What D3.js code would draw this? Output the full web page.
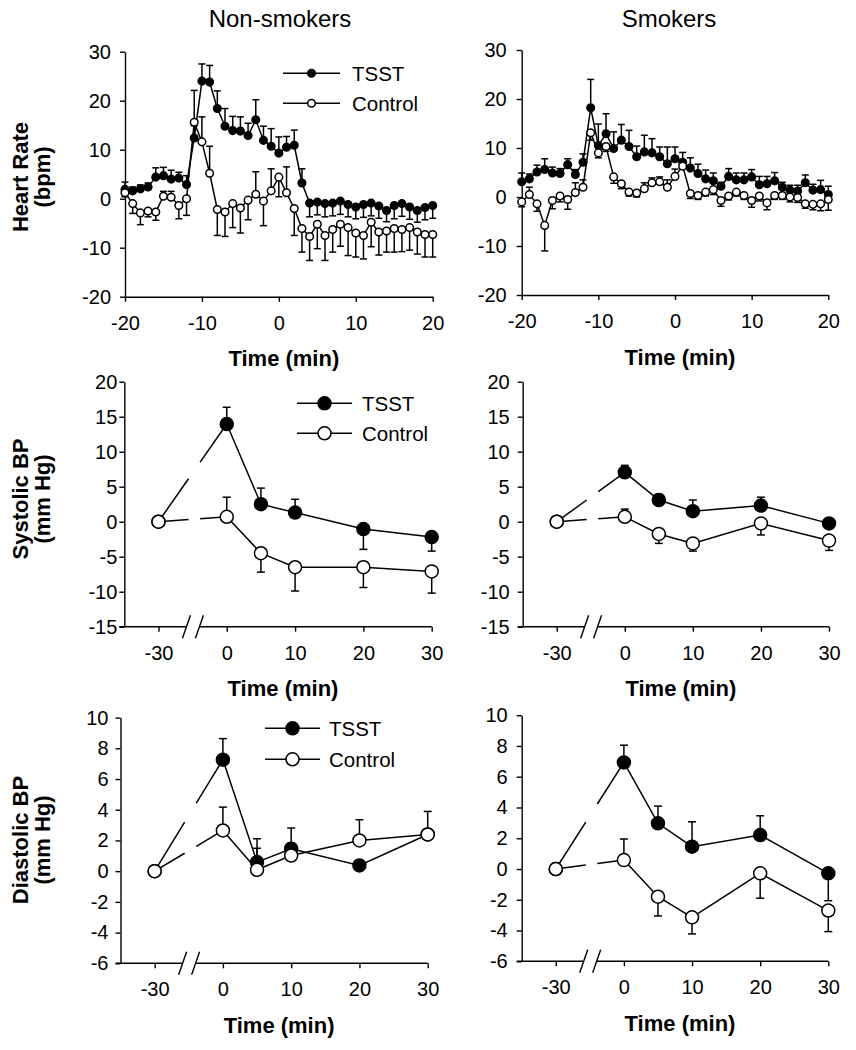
<!DOCTYPE html>
<html><head><meta charset="utf-8">
<script src="https://cdn.jsdelivr.net/npm/d3@7"></script>
<style>
body{margin:0;background:#fff}
svg{display:block}
</style></head><body>
<svg id="chart" width="856" height="1050"></svg>
<script>
// ---------------- DATA ----------------
const columnTitles = ["Non-smokers", "Smokers"];
const seriesNames = ["TSST", "Control"];
const rowTitles = [["Heart Rate", "(bpm)"], ["Systolic BP", "(mm Hg)"], ["Diastolic BP", "(mm Hg)"]];
const xTitle = "Time (min)";

// Heart rate, minute by minute
const hrTime = [-20,-19,-18,-17,-16,-15,-14,-13,-12,-11,-10,-9,-8,-7,-6,-5,-4,-3,-2,-1,0,1,2,3,4,5,6,7,8,9,10,11,12,13,14,15,16,17,18,19,20];
const hrNonTSST = [1.9,1.6,2.0,2.4,4.4,4.7,4.0,4.2,2.9, 12.4,24.0,23.8,18.4,14.8,13.9,13.8,12.9,16.1,11.9,10.7, 9.3,10.5,10.9,3.2,-0.9,-0.7,-1.0,-0.9,-0.5,-1.2,-1.7,-1.2,-0.9,-1.5,-2.4,-1.4,-1.0,-1.7,-2.4,-1.8,-1.4];
const hrNonTSSTErr = [1.5,0.8,0.8,0.8,1.9,1.7,1.8,1.2,1.8, 2.5,3.5,3.4,3.6,3.6,2.9,2.9,2.5,4.1,2.9,3.6, 3.3,2.2,3.1,2.9,-2.8,-2.6,-2.7,-2.6,-2.7,-2.5,-2.4,-2.6,-2.6,-2.5,-2.3,-2.7,-2.6,-2.5,-2.4,-2.5,-2.6];
const hrNonCtrl = [1.2,-1.0,-2.9,-2.5,-2.7,0.5,0.3,-1.4,0.0, 15.6,11.6,5.2,-2.2,-2.7,-1.0,-1.9,-0.3,0.9,-0.5,1.6, 4.4,1.2,-2.0,-6.1,-7.7,-5.2,-7.5,-6.3,-5.2,-5.9,-7.0,-7.5,-4.8,-6.8,-6.6,-6.1,-6.3,-5.9,-6.8,-7.3,-7.3];
const hrNonCtrlErr = [-0.8,-2.0,-2.4,-1.2,-1.7,1.0,1.2,-2.7,-3.4, 6.5,5.1,5.5,-5.3,-5.0,-4.9,-5.1,-4.0,4.6,-5.0,4.5, -4.0,5.3,-5.5,-4.8,-4.9,-5.0,-5.1,-4.6,-4.5,-5.7,-4.9,-4.8,-5.0,-4.7,-4.3,-4.8,-4.5,-4.6,-4.5,-4.6,-4.6];
const hrSmkTSST = [3.1,3.7,5.1,5.6,4.9,4.8,6.6,4.6,7.1, 18.2,10.5,12.9,9.9,11.6,10.3,8.2,9.2,9.0,8.2,6.8, 7.8,7.1,5.9,4.8,3.7,3.3,2.2,4.2,3.5,3.5,4.1,2.5,2.7,3.3,2.0,1.4,1.2,2.9,1.4,1.5,0.5];
const hrSmkTSSTErr = [1.8,1.0,1.4,2.2,1.2,1.0,1.2,1.0,1.7, 5.8,4.4,4.1,3.4,3.2,3.3,2.2,3.4,2.9,2.0,3.4, 2.4,2.0,2.1,1.9,1.8,1.6,0.8,1.6,1.4,1.4,1.5,1.7,1.5,1.7,1.0,1.0,1.2,1.6,1.2,1.9,1.7];
const hrSmkCtrl = [-1.0,0.5,-1.4,-5.8,-0.7,0.2,-0.5,0.9,2.0, 13.1,9.0,10.3,4.1,2.7,1.0,0.8,1.7,2.9,3.1,2.0, 4.2,6.3,0.7,0.3,1.0,1.5,-0.7,0.2,1.0,0.3,-0.7,0.2,-1.2,0.3,0.3,0.0,-0.1,-1.4,-1.5,-1.4,-0.5];
const hrSmkCtrlErr = [-1.0,1.5,-1.5,-5.2,-1.7,-1.2,-2.0,2.0,1.5, -1.5,-1.0,-1.0,-1.3,-1.0,-0.8,-0.8,1.2,1.0,1.0,1.5, 1.5,1.0,-1.0,-0.8,-0.8,-1.0,-1.2,-0.8,-0.8,-0.8,-1.4,-1.0,-1.4,-0.8,-0.8,-1.0,-1.0,-0.9,-1.1,-1.4,-2.2];

// Blood pressure sample times (baseline at -30, axis broken before 0)
const bpTime = [-30, 0, 5, 10, 20, 30];
const sysNonTSST = [0, 13.95, 2.5, 1.3, -1.05, -2.2];
const sysNonTSSTErr = [0, 2.4, 2.3, 1.9, -2.9, -2.0];
const sysNonCtrl = [0, 0.7, -4.5, -6.5, -6.5, -7.1];
const sysNonCtrlErr = [0, 2.8, -2.7, -3.4, -2.9, -3.1];
const sysSmkTSST = [0, 7.05, 3.1, 1.5, 2.3, -0.24];
const sysSmkTSSTErr = [0, 1.0, 0.8, 1.6, 1.2, 0.5];
const sysSmkCtrl = [0, 0.7, -1.75, -3.1, -0.24, -2.7];
const sysSmkCtrlErr = [0, 1.1, -1.35, -1.1, -1.65, -1.4];
const diaNonTSST = [0, 7.26, 0.59, 1.46, 0.37, 2.39];
const diaNonTSSTErr = [0, 1.37, 1.52, 1.35, 0, 1.5];
const diaNonCtrl = [0, 2.65, 0.09, 1.02, 2.0, 2.39];
const diaNonCtrlErr = [0, 1.52, 1.4, 0.8, 1.35, 0.26];
const diaSmkTSST = [0, 6.93, 2.97, 1.45, 2.21, -0.28];
const diaSmkTSSTErr = [0, 1.12, 1.12, 1.62, 1.25, -1.78];
const diaSmkCtrl = [0, 0.58, -1.8, -3.14, -0.28, -2.7];
const diaSmkCtrlErr = [0, 1.37, -1.25, -1.08, -1.62, -1.37];

// Tick values
const hrXTicks = [-20, -10, 0, 10, 20];
const hrYTicks = [-20, -10, 0, 10, 20, 30];
const bpXTicks = [-30, 0, 10, 20, 30];
const sysYTicks = [-15, -10, -5, 0, 5, 10, 15, 20];
const diaYTicks = [-6, -4, -2, 0, 2, 4, 6, 8, 10];

// ---------------- DRAWING ----------------
const FONT = '"Liberation Sans", Arial, Helvetica, sans-serif';
const svg = d3.select("#chart");
const SW = 1.4;

// broken-axis mapping: baseline session is drawn 20 min closer to the stress period
const brokenTime = t => (t <= -25 ? t + 20 : t);
const BREAK_MARKS = [-5.9, -4.0];
const LINE_GAP = [-5.6, -3.9];

function drawPanel(p) {
  const g = svg.append("g");
  const x = d3.scaleLinear().domain(p.xDomain).range([p.left, p.right]);
  const y = d3.scaleLinear().domain(p.yDomain).range([p.bottom, p.top]);
  const tx = p.broken ? brokenTime : (t => t);
  const X = t => x(tx(t));

  const ya = g.append("g").attr("transform", `translate(${p.left},0)`)
    .call(d3.axisLeft(y).tickValues(p.yTicks).tickSize(5).tickSizeOuter(0)
      .tickPadding(p.yPad).tickFormat(d => String(d)));
  const xa = g.append("g").attr("transform", `translate(0,${p.bottom})`)
    .call(d3.axisBottom(x).tickValues(p.xTicks.map(tx)).tickSize(5).tickSizeOuter(0)
      .tickPadding(14).tickFormat((d, i) => String(p.xTicks[i])));
  [ya, xa].forEach(a => {
    a.selectAll("text").attr("font-size", 20).attr("font-family", FONT).attr("fill", "#000");
    a.selectAll("line,path").attr("stroke", "#000").attr("stroke-width", SW);
  });

  if (p.broken) {
    xa.select(".domain").remove();
    const ax = g.append("g").attr("stroke", "#000").attr("stroke-width", SW);
    ax.append("line").attr("x1", p.left - 5).attr("x2", x(BREAK_MARKS[0])).attr("y1", p.bottom).attr("y2", p.bottom);
    ax.append("line").attr("x1", x(BREAK_MARKS[1])).attr("x2", p.right).attr("y1", p.bottom).attr("y2", p.bottom);
    BREAK_MARKS.forEach(b => {
      ax.append("line").attr("x1", x(b) - 4).attr("y1", p.bottom + 11.5)
        .attr("x2", x(b) + 4).attr("y2", p.bottom - 11.5);
    });
  }

  // x title
  g.append("text").attr("x", (p.left + p.right) / 2 + 5).attr("y", p.bottom + 61.6 + 8)
    .attr("text-anchor", "middle").attr("font-family", FONT).attr("font-weight", "bold")
    .attr("font-size", 22).text(xTitle);

  // error bars
  const eb = g.append("g").attr("stroke", "#000").attr("stroke-width", 1.5);
  p.series.forEach(s => {
    s.values.forEach((v, i) => {
      const e = s.errs[i];
      if (!e) return;
      const cx = X(p.times[i]);
      eb.append("line").attr("x1", cx).attr("x2", cx).attr("y1", y(v)).attr("y2", y(v + e));
      eb.append("line").attr("x1", cx - p.cap / 2).attr("x2", cx + p.cap / 2)
        .attr("y1", y(v + e)).attr("y2", y(v + e));
    });
  });

  // lines
  const lg = g.append("g").attr("stroke", "#000").attr("stroke-width", 1.5).attr("fill", "none");
  const line = d3.line().x(d => X(d.t)).y(d => y(d.v));
  p.series.forEach(s => {
    const pts = s.values.map((v, i) => ({ t: p.times[i], v }));
    if (!p.broken) {
      lg.append("path").attr("d", line(pts));
    } else {
      const a = pts[0], b = pts[1];
      const interp = d3.scaleLinear().domain([tx(a.t), tx(b.t)]).range([a.v, b.v]);
      const lineP = d3.line().x(d => x(d.p)).y(d => y(d.v));
      lg.append("path").attr("d", lineP([{ p: tx(a.t), v: a.v }, { p: LINE_GAP[0], v: interp(LINE_GAP[0]) }]));
      lg.append("path").attr("d", lineP([{ p: LINE_GAP[1], v: interp(LINE_GAP[1]) }, { p: tx(b.t), v: b.v }]));
      lg.append("path").attr("d", line(pts.slice(1)));
    }
  });

  // markers
  p.series.forEach(s => {
    g.append("g").selectAll("circle").data(s.values).join("circle")
      .attr("cx", (v, i) => X(p.times[i])).attr("cy", v => y(v)).attr("r", p.r)
      .attr("fill", s.filled ? "#000" : "#fff").attr("stroke", "#000").attr("stroke-width", 1.5);
  });

  // legend
  if (p.legend) {
    const L = p.legend;
    [true, false].forEach((filled, k) => {
      const ly = L.y + k * L.dy;
      g.append("line").attr("x1", L.x).attr("x2", L.x + L.w).attr("y1", ly).attr("y2", ly)
        .attr("stroke", "#000").attr("stroke-width", 1.5);
      g.append("circle").attr("cx", L.x + L.w / 2).attr("cy", ly).attr("r", p.r)
        .attr("fill", filled ? "#000" : "#fff").attr("stroke", "#000").attr("stroke-width", 1.5);
      g.append("text").attr("x", L.tx).attr("y", ly + 7.3).attr("font-family", FONT)
        .attr("font-size", 20.5).text(seriesNames[k]);
    });
  }
}

const panels = [
  { left: 125, right: 432.7, top: 51.7, bottom: 296.7, xDomain: [-20, 20], yDomain: [-20, 30],
    xTicks: hrXTicks, yTicks: hrYTicks, yPad: 9, times: hrTime, r: 3.8, cap: 7, broken: false,
    series: [{ values: hrNonTSST, errs: hrNonTSSTErr, filled: true }, { values: hrNonCtrl, errs: hrNonCtrlErr, filled: false }],
    legend: { x: 283, w: 57, tx: 352, y: 73.3, dy: 30 } },
  { left: 521.7, right: 828.3, top: 50, bottom: 295, xDomain: [-20, 20], yDomain: [-20, 30],
    xTicks: hrXTicks, yTicks: hrYTicks, yPad: 10, times: hrTime, r: 3.8, cap: 7, broken: false,
    series: [{ values: hrSmkTSST, errs: hrSmkTSSTErr, filled: true }, { values: hrSmkCtrl, errs: hrSmkCtrlErr, filled: false }] },
  { left: 124.3, right: 431.7, top: 381.7, bottom: 626.7, xDomain: [-15, 30], yDomain: [-15, 20],
    xTicks: bpXTicks, yTicks: sysYTicks, yPad: 2, times: bpTime, r: 6.5, cap: 8, broken: true,
    series: [{ values: sysNonTSST, errs: sysNonTSSTErr, filled: true }, { values: sysNonCtrl, errs: sysNonCtrlErr, filled: false }],
    legend: { x: 297, w: 55, tx: 362, y: 403.3, dy: 30 } },
  { left: 522.7, right: 829, top: 381.7, bottom: 626.7, xDomain: [-15, 30], yDomain: [-15, 20],
    xTicks: bpXTicks, yTicks: sysYTicks, yPad: 8, times: bpTime, r: 6.5, cap: 8, broken: true,
    series: [{ values: sysSmkTSST, errs: sysSmkTSSTErr, filled: true }, { values: sysSmkCtrl, errs: sysSmkCtrlErr, filled: false }] },
  { left: 120.5, right: 427.7, top: 717.6, bottom: 963.3, xDomain: [-15, 30], yDomain: [-6, 10],
    xTicks: bpXTicks, yTicks: diaYTicks, yPad: 7, times: bpTime, r: 6.5, cap: 8, broken: true,
    series: [{ values: diaNonTSST, errs: diaNonTSSTErr, filled: true }, { values: diaNonCtrl, errs: diaNonCtrlErr, filled: false }],
    legend: { x: 265, w: 55, tx: 329, y: 728.3, dy: 31 } },
  { left: 521.7, right: 828.3, top: 715.2, bottom: 961.3, xDomain: [-15, 30], yDomain: [-6, 10],
    xTicks: bpXTicks, yTicks: diaYTicks, yPad: 9, times: bpTime, r: 6.5, cap: 8, broken: true,
    series: [{ values: diaSmkTSST, errs: diaSmkTSSTErr, filled: true }, { values: diaSmkCtrl, errs: diaSmkCtrlErr, filled: false }] }
];
panels.forEach(drawPanel);

// column titles
[[280, columnTitles[0]], [669, columnTitles[1]]].forEach(([cx, t]) => {
  svg.append("text").attr("x", cx).attr("y", 26.5).attr("text-anchor", "middle")
    .attr("font-family", FONT).attr("font-size", 24).text(t);
});

// row titles
[177, 499, 840].forEach((cy, r) => {
  const t = svg.append("text").attr("transform", `translate(0,${cy}) rotate(-90)`)
    .attr("text-anchor", "middle").attr("font-family", FONT).attr("font-weight", "bold").attr("font-size", 22);
  t.append("tspan").attr("x", 0).attr("y", 28).text(rowTitles[r][0]);
  t.append("tspan").attr("x", 0).attr("y", 50).text(rowTitles[r][1]);
});
</script>
</body></html>
